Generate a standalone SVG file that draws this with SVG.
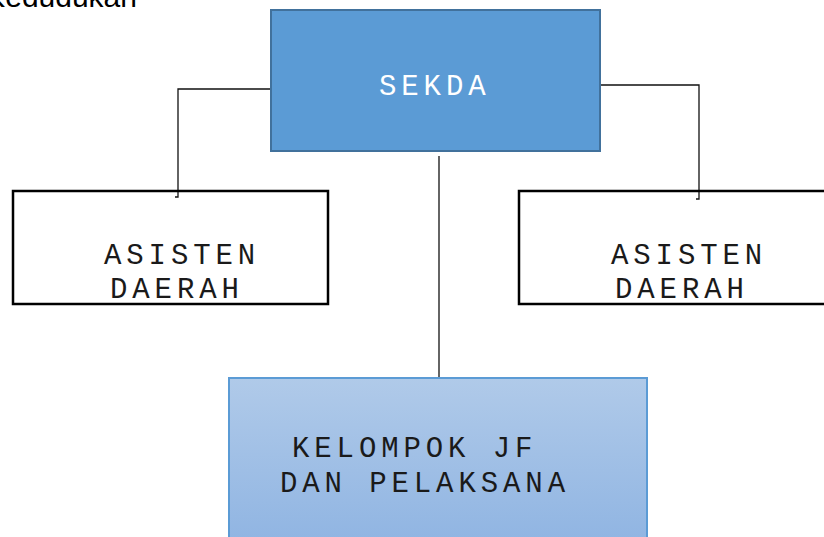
<svg xmlns="http://www.w3.org/2000/svg" width="824" height="537" viewBox="0 0 824 537">
<style>
.lbl{font-family:"Liberation Mono","Courier New",monospace;font-size:29px;letter-spacing:4.9px;fill:#1a1a1a}
.con{fill:none;stroke:#111;stroke-width:1.3}
</style>
<defs>
<linearGradient id="g" x1="0" y1="0" x2="0" y2="1">
<stop offset="0" stop-color="#b0cae9"/>
<stop offset="1" stop-color="#8fb4e2"/>
</linearGradient>
</defs>
<rect width="824" height="537" fill="#fff"/>
<text x="137" y="7" text-anchor="end" font-family="Liberation Sans, Arial, sans-serif" font-size="30" fill="#000">Kedudukan</text>
<g id="connectors">
<path class="con" d="M270 89H178V197H175"/>
<path class="con" d="M600 85H699V199H696"/>
<path class="con" d="M439 156V383"/>
</g>
<g id="sekda">
<rect x="271" y="10" width="329" height="141" fill="#5b9bd5" stroke="#41719c" stroke-width="2"/>
<text class="lbl" x="379" y="95" style="fill:#fff">SEKDA</text>
</g>
<g id="asisten-kiri">
<rect x="13" y="191" width="315" height="113" fill="none" stroke="#000" stroke-width="2.5"/>
<text class="lbl" x="104" y="264">ASISTEN</text>
<text class="lbl" x="110" y="298">DAERAH</text>
</g>
<g id="asisten-kanan">
<rect x="519" y="191" width="320" height="113" fill="none" stroke="#000" stroke-width="2.5"/>
<text class="lbl" x="611" y="264">ASISTEN</text>
<text class="lbl" x="615" y="298">DAERAH</text>
</g>
<g id="kelompok">
<rect x="229" y="378" width="418" height="170" fill="url(#g)" stroke="#5b9bd5" stroke-width="2"/>
<text class="lbl" x="292" y="457">KELOMPOK JF</text>
<text class="lbl" x="280" y="492">DAN PELAKSANA</text>
</g>
</svg>
